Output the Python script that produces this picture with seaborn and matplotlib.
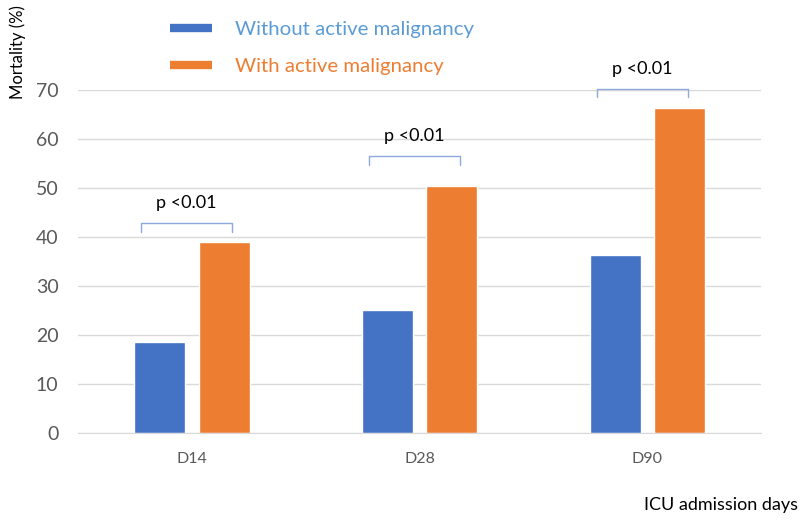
import pandas as pd
import matplotlib.pyplot as plt
from matplotlib.lines import Line2D
import seaborn as sns

days = ["D14", "D28", "D90"]
groups = ["Without active malignancy", "With active malignancy"]
without_malig = [18.6, 25.1, 36.3]
with_malig = [39.0, 50.4, 66.3]
p_labels = ["p <0.01", "p <0.01", "p <0.01"]
bracket_y = [42.8, 56.5, 70.3]

colors = ["#4472c4", "#ed7d31"]
legend_colors = ["#5b9bd5", "#ed7d31"]


def main():
    df = pd.DataFrame({
        "day": days * 2,
        "group": [groups[0]] * 3 + [groups[1]] * 3,
        "mortality": without_malig + with_malig,
    })

    sns.set_style("white")
    plt.rcParams["font.family"] = ["Lato", "DejaVu Sans"]

    fig = plt.figure(figsize=(8, 5.21), dpi=100)
    ax = fig.add_axes([0.0975, 0.169, 0.854, 0.658])

    sns.barplot(data=df, x="day", y="mortality", hue="group", order=days,
                hue_order=groups, palette=colors, width=0.567, gap=0.209,
                saturation=1, legend=False, ax=ax)

    ax.set_ylim(0, 70)
    ax.set_yticks(range(0, 71, 10))
    ax.set_xlim(-0.5, 2.5)
    ax.yaxis.grid(True, color="#d9d9d9", linewidth=1)
    ax.set_axisbelow(True)
    for s in ["top", "right", "left"]:
        ax.spines[s].set_visible(False)
    ax.spines["bottom"].set_color("#d9d9d9")
    ax.tick_params(axis="y", length=0, labelsize=14, labelcolor="#595959", pad=14)
    ax.tick_params(axis="x", length=0, labelsize=11.5, labelcolor="#595959", pad=14)
    ax.set_xlabel("")
    ax.set_ylabel("")

    # brackets with p values
    for i, (yb, txt) in enumerate(zip(bracket_y, p_labels)):
        x0, x1 = i - 0.222, i + 0.177
        ax.plot([x0, x0, x1, x1], [yb - 1.7, yb, yb, yb - 1.7],
                color="#8ea9db", linewidth=1, clip_on=False)
        ax.text((x0 + x1) / 2, yb + 4.1, txt, ha="center", va="center",
                fontsize=13, color="black", clip_on=False)

    fig.text(0.012, 0.99, "Mortality (%)", rotation=90, ha="left", va="top",
             fontsize=12, color="black")
    fig.text(0.998, 0.03, "ICU admission days", ha="right", va="center",
             fontsize=13, color="black")

    handles = [Line2D([0], [0], color=c, linewidth=6, solid_capstyle="butt")
               for c in colors]
    ax.legend(handles, groups, loc="upper left", bbox_to_anchor=(0.2, 0.979),
              bbox_transform=fig.transFigure, frameon=False, fontsize=14.7,
              handlelength=2.05, handletextpad=1.1, labelspacing=0.95,
              borderpad=0, labelcolor=legend_colors)

    fig.savefig("out.png", dpi=100)


if __name__ == "__main__":
    main()
